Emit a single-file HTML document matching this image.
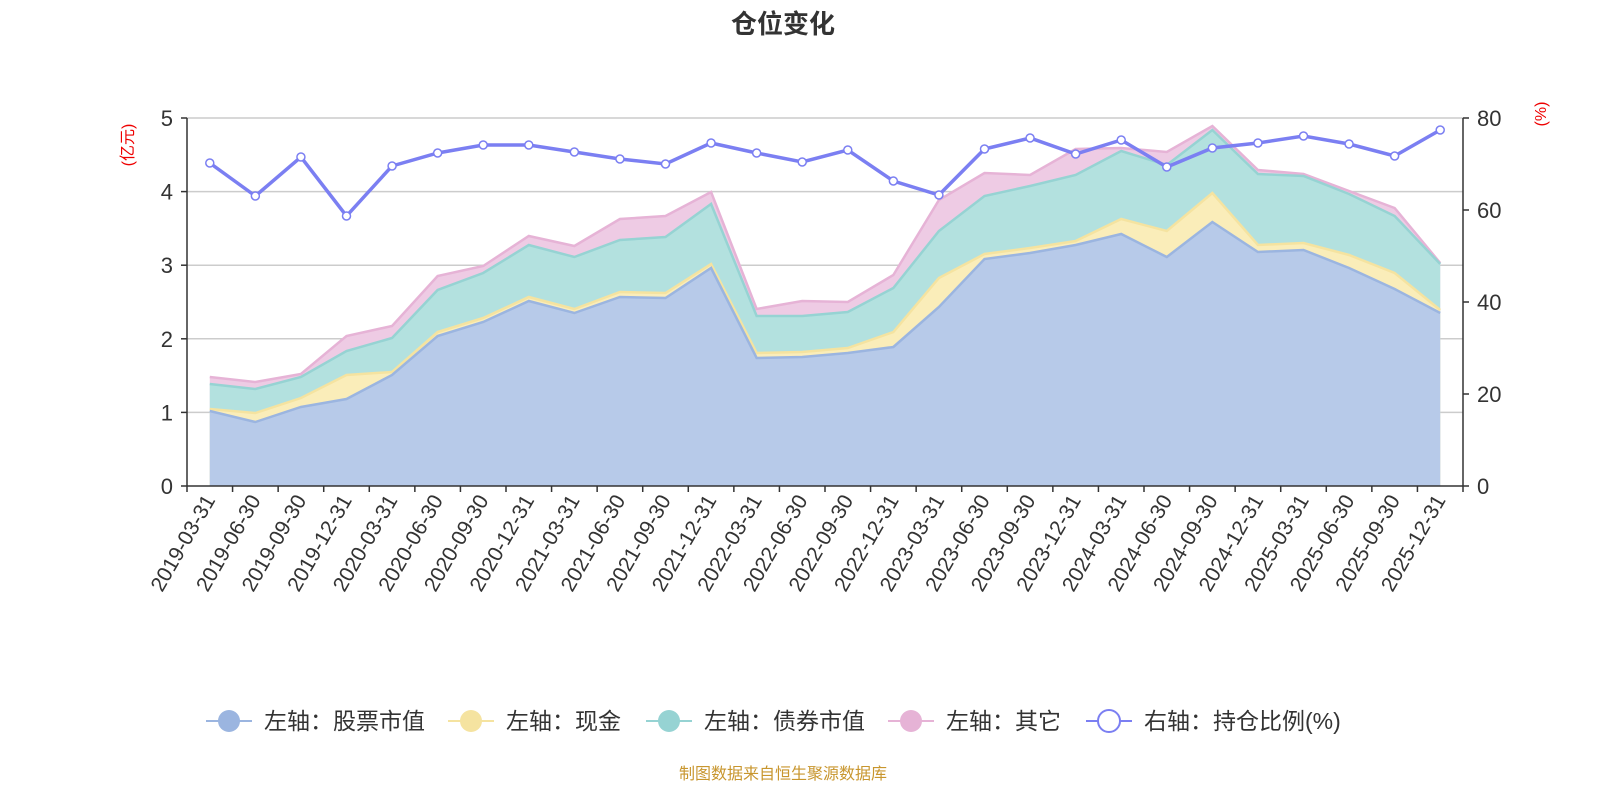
<!DOCTYPE html>
<html><head><meta charset="utf-8"><style>
body{margin:0;background:#fff;}
svg{display:block;font-family:"Liberation Sans","Noto Sans CJK SC",sans-serif;}
</style></head><body>
<svg id="s" width="1600" height="800" xmlns="http://www.w3.org/2000/svg">
<text x="783" y="33" text-anchor="middle" font-size="26" font-weight="bold" fill="#333">仓位变化</text>
<g id="grid"></g>
<g id="areas"></g>
<g id="axes"></g>
<g id="line"></g>
<text transform="translate(133,145) rotate(-90)" text-anchor="middle" font-size="16" fill="#e00">(亿元)</text>
<text transform="translate(1546,114) rotate(-90)" text-anchor="middle" font-size="16" fill="#e00">(%)</text>
<g font-size="23" fill="#333">
<line x1="206" y1="721" x2="252" y2="721" stroke="#9bb5e0" stroke-width="2"/><circle cx="229" cy="721" r="11" fill="#9bb5e0"/>
<text x="264" y="729">左轴：股票市值</text>
<line x1="448" y1="721" x2="494" y2="721" stroke="#f5e3a0" stroke-width="2"/><circle cx="471" cy="721" r="11" fill="#f5e3a0"/>
<text x="506" y="729">左轴：现金</text>
<line x1="646" y1="721" x2="692" y2="721" stroke="#96d3d3" stroke-width="2"/><circle cx="669" cy="721" r="11" fill="#96d3d3"/>
<text x="704" y="729">左轴：债券市值</text>
<line x1="888" y1="721" x2="934" y2="721" stroke="#e6b3d6" stroke-width="2"/><circle cx="911" cy="721" r="11" fill="#e6b3d6"/>
<text x="946" y="729">左轴：其它</text>
<line x1="1086" y1="721" x2="1132" y2="721" stroke="#7b7ff2" stroke-width="2"/><circle cx="1109" cy="721" r="11" fill="#fff" stroke="#7b7ff2" stroke-width="2"/>
<text x="1144" y="729">右轴：持仓比例(%)</text>
</g>
<text x="783" y="779" text-anchor="middle" font-size="16" fill="#c8962e">制图数据来自恒生聚源数据库</text>
</svg>
<script>
const NS="http://www.w3.org/2000/svg";
function el(p,t,a,txt){const e=document.createElementNS(NS,t);for(const k in a)e.setAttribute(k,a[k]);if(txt!=null)e.textContent=txt;document.getElementById(p).appendChild(e);return e;}
const dates=["2019-03-31","2019-06-30","2019-09-30","2019-12-31","2020-03-31","2020-06-30","2020-09-30","2020-12-31","2021-03-31","2021-06-30","2021-09-30","2021-12-31","2022-03-31","2022-06-30","2022-09-30","2022-12-31","2023-03-31","2023-06-30","2023-09-30","2023-12-31","2024-03-31","2024-06-30","2024-09-30","2024-12-31","2025-03-31","2025-06-30","2025-09-30","2025-12-31"];
const stock=[411,422,407,399,375,336,322,301,313,297,298,268,358,357,353,347,307,259,253,245,234,257,222,252,250,268,289,313];
const cash=[409,413,398,375,372,332,318,297,309,292,293,264,353,352,348,332,278,254,248,241,219,231,193,245,243,255,273,310];
const bond=[384,389,377,351,338,290,273,245,257,240,237,204,316,316,312,288,231,196,186,175,151,165,130,174,176,194,216,264];
const other=[377,382,374,336,326,276,266,236,246,219,216,192,309,301,302,275,200,173,175,149,148,152,126,170,174,191,208,263];
const ratio=[163,196,157,216,166,153,145,145,152,159,164,143,153,162,150,181,195,149,138,154,140,167,148,143,136,144,156,130];
const L=187,R=1463,B=486,step=(R-L)/28;
const X=i=>L+step*(i+0.5);
for(let v=0;v<=5;v++){const y=486-v*73.6;
 if(v>0)el("grid","line",{x1:L,x2:R,y1:y,y2:y,stroke:"#ccc","stroke-width":1.5});
 el("axes","line",{x1:L-6,x2:L,y1:y,y2:y,stroke:"#333","stroke-width":1.5});
 el("axes","text",{x:L-14,y:y+8,"text-anchor":"end","font-size":22,fill:"#333"},v);
}
for(let v=0;v<=4;v++){const y=486-v*92;
 el("axes","line",{x1:R,x2:R+6,y1:y,y2:y,stroke:"#333","stroke-width":1.5});
 el("axes","text",{x:R+14,y:y+8,"font-size":22,fill:"#333"},v*20);
}
el("axes","line",{x1:L,x2:L,y1:118,y2:B,stroke:"#333","stroke-width":1.5});
el("axes","line",{x1:R,x2:R,y1:118,y2:B,stroke:"#333","stroke-width":1.5});
el("axes","line",{x1:L,x2:R,y1:B,y2:B,stroke:"#333","stroke-width":1.5});
for(let i=0;i<=28;i++){const x=L+step*i;el("axes","line",{x1:x,x2:x,y1:B,y2:B+6,stroke:"#333","stroke-width":1.5});}
dates.forEach((d,i)=>{const x=X(i)+6;el("axes","text",{transform:`translate(${x},${B+14}) rotate(-60)`,"text-anchor":"end","font-size":21,fill:"#333"},d);});
function area(arr,fill,stroke){const pts=arr.map((y,i)=>X(i)+","+y).join(" ");
 el("areas","polygon",{points:pts+` ${X(27)},${B} ${X(0)},${B}`,fill:fill});
 el("areas","polyline",{points:pts,fill:"none",stroke:stroke,"stroke-width":2.5});}
area(other,"#eecbe4","#e6b3d6");
area(bond,"#b3e1df","#96d3d3");
area(cash,"#faedb9","#f5e3a0");
area(stock,"#b7cae9","#9bb5e0");
el("line","polyline",{points:ratio.map((y,i)=>X(i)+","+y).join(" "),fill:"none",stroke:"#7b7ff2","stroke-width":3.5});
ratio.forEach((y,i)=>el("line","circle",{cx:X(i),cy:y,r:4,fill:"#fff",stroke:"#7b7ff2","stroke-width":1.5}));
</script>
</body></html>
